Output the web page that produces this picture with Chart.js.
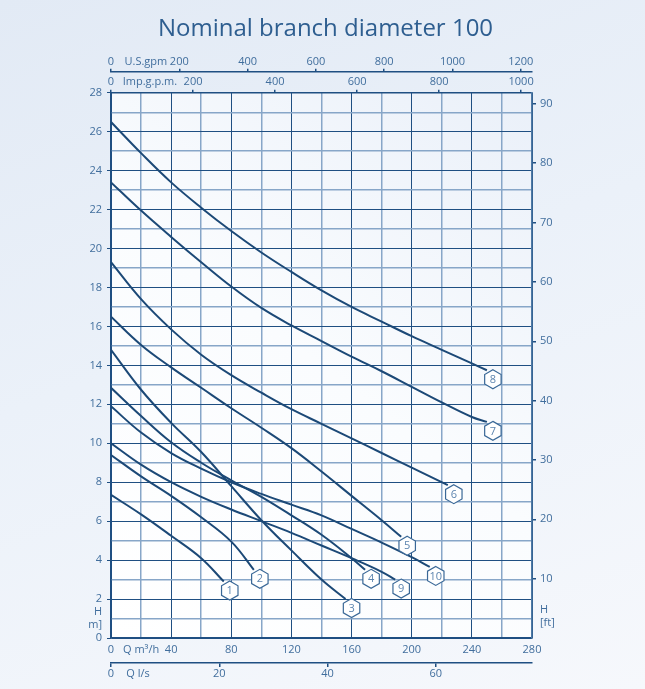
<!DOCTYPE html>
<html>
<head>
<meta charset="utf-8">
<script src="https://cdn.jsdelivr.net/npm/chart.js@4.4.1/dist/chart.umd.min.js"></script>
<style>
  html, body { margin: 0; padding: 0; }
  body {
    width: 645px; height: 689px; overflow: hidden;
    background: linear-gradient(160deg, #e2eaf5 0%, #ebf1f9 45%, #f6f8fc 100%);
  }
</style>
</head>
<body>
<canvas id="pumpChart" width="645" height="689"></canvas>
<script>
// pump curves, Q in m3/h, H in m
const q1 = [0, 20, 40, 60, 75];
const h1 = [7.35, 6.35, 5.25, 4.1, 2.9];
const q2 = [0, 20, 40, 60, 80, 95];
const h2 = [9.4, 8.3, 7.3, 6.2, 4.95, 3.5];
const q3 = [0, 20, 40, 60, 80, 100, 120, 140, 156];
const h3 = [14.8, 12.75, 11.05, 9.55, 7.8, 6.05, 4.5, 3.0, 2.0];
const q4 = [0, 20, 40, 60, 80, 100, 120, 140, 160, 169];
const h4 = [12.85, 11.4, 10.05, 9.0, 8.1, 7.25, 6.3, 5.3, 4.1, 3.5];
const q5 = [0, 20, 40, 60, 80, 100, 120, 140, 160, 180, 193];
const h5 = [16.5, 15.05, 13.9, 12.85, 11.8, 10.8, 9.75, 8.55, 7.3, 6.05, 5.2];
const q6 = [0, 20, 40, 60, 80, 100, 120, 140, 160, 180, 200, 224];
const h6 = [19.3, 17.4, 15.85, 14.55, 13.5, 12.6, 11.75, 11.0, 10.25, 9.5, 8.75, 7.85];
const q7 = [0, 20, 40, 60, 80, 100, 120, 140, 160, 180, 200, 220, 240, 250];
const h7 = [23.4, 21.95, 20.6, 19.3, 18.05, 16.95, 16.05, 15.25, 14.45, 13.7, 12.9, 12.1, 11.35, 11.1];
const q8 = [0, 20, 40, 60, 80, 100, 120, 140, 160, 180, 200, 220, 240, 250];
const h8 = [26.5, 24.9, 23.4, 22.1, 20.9, 19.8, 18.8, 17.85, 17.0, 16.25, 15.5, 14.8, 14.1, 13.75];
const q9 = [0, 20, 40, 60, 80, 100, 120, 140, 160, 180, 189];
const h9 = [10.0, 8.9, 8.0, 7.25, 6.6, 6.0, 5.4, 4.75, 4.1, 3.4, 3.0];
const q10 = [0, 20, 40, 60, 80, 100, 120, 140, 160, 180, 200, 212];
const h10 = [11.9, 10.55, 9.5, 8.7, 8.0, 7.4, 6.85, 6.3, 5.6, 4.9, 4.15, 3.65];

const curveNames = ['1', '2', '3', '4', '5', '6', '7', '8', '9', '10'];
const curveQ = [q1, q2, q3, q4, q5, q6, q7, q8, q9, q10];
const curveH = [h1, h2, h3, h4, h5, h6, h7, h8, h9, h10];

// axes
const qMax = 280, hMax = 28;
const lsTicks = [0, 5, 20, 40, 60];          // 5 carries the "Q l/s" caption
const impTicks = [0, 95, 200, 400, 600, 800, 1000];
const usTicks = [0, 102, 200, 400, 600, 800, 1000, 1200];
const ftTicks = [3.6, 10, 20, 30, 40, 50, 60, 70, 80, 90];

const DARK = '#1f4f82';
const LIGHT = '#87a6c8';
const LINE = '#1c4977';
const TEXT = '#416e9d';
const FONT = { family: 'Open Sans', size: 11 };

const datasets = curveNames.map((name, i) => ({
  label: name,
  data: curveQ[i].map((q, k) => ({ x: q, y: curveH[i][k] })),
  borderColor: LINE,
  borderWidth: 2,
  pointRadius: 0,
  tension: 0.4,
  xAxisID: 'x',
  yAxisID: 'y'
}));

const plotBg = {
  id: 'plotBg',
  beforeDraw(chart) {
    const { ctx, chartArea: a } = chart;
    const g = ctx.createLinearGradient(a.right, a.top, a.left, a.bottom);
    g.addColorStop(0, '#eaf0f9');
    g.addColorStop(0.5, '#fafcfe');
    g.addColorStop(1, '#ffffff');
    ctx.save();
    ctx.fillStyle = g;
    ctx.fillRect(a.left, a.top, a.right - a.left, a.bottom - a.top);
    ctx.restore();
  }
};

const curveTags = {
  id: 'curveTags',
  afterDatasetsDraw(chart) {
    const ctx = chart.ctx;
    chart.data.datasets.forEach((ds, i) => {
      const pts = chart.getDatasetMeta(i).data;
      const end = pts[pts.length - 1];
      const cx = end.x + 6, cy = end.y + 9, r = 9.5;
      ctx.save();
      ctx.beginPath();
      for (let k = 0; k < 6; k++) {
        const a = Math.PI / 3 * k - Math.PI / 2;
        const px = cx + r * Math.cos(a), py = cy + r * Math.sin(a);
        if (k === 0) ctx.moveTo(px, py); else ctx.lineTo(px, py);
      }
      ctx.closePath();
      ctx.fillStyle = '#ffffff';
      ctx.fill();
      ctx.strokeStyle = '#3a6897';
      ctx.lineWidth = 1.2;
      ctx.stroke();
      ctx.fillStyle = '#5d85af';
      ctx.font = '11px "Open Sans"';
      ctx.textAlign = 'center';
      ctx.textBaseline = 'middle';
      ctx.fillText(ds.label, cx, cy + 0.5);
      ctx.restore();
    });
  }
};

function fixedTicks(list) {
  return scale => { scale.ticks = list.map(v => ({ value: v })); };
}

new Chart(document.getElementById('pumpChart'), {
  type: 'line',
  data: { datasets },
  plugins: [plotBg, curveTags],
  options: {
    responsive: false,
    animation: false,
    devicePixelRatio: 1,
    layout: { padding: { left: 89, right: 83, top: 0, bottom: 4 } },
    plugins: {
      legend: { display: false },
      tooltip: { enabled: false },
      title: {
        display: true,
        text: 'Nominal branch diameter 100',
        color: '#2e5e90',
        font: { family: 'Open Sans', size: 24, weight: 'normal' },
        padding: { top: 15, bottom: 7 }
      }
    },
    scales: {
      x: {
        type: 'linear', axis: 'x', position: 'bottom', weight: 0,
        min: 0, max: qMax,
        ticks: {
          stepSize: 20, autoSkip: false, maxRotation: 0, padding: 5,
          color: TEXT, font: FONT,
          callback: v => v === 20 ? 'Q m³/h' : (v % 40 === 0 ? v : '')
        },
        grid: {
          drawTicks: false,
          color: c => (c.tick && c.tick.value % 40 === 0) ? DARK : LIGHT,
          lineWidth: c => (c.tick && c.tick.value % 40 === 0) ? 1 : 1.5
        },
        border: { color: DARK, width: 1.5 },
        afterFit: s => { s.height = 25; }
      },
      ls: {
        type: 'linear', axis: 'x', position: 'bottom', weight: 1,
        min: 0, max: qMax / 3.6,
        afterBuildTicks: fixedTicks(lsTicks),
        ticks: {
          autoSkip: false, maxRotation: 0, padding: 0, color: TEXT, font: FONT,
          callback: v => v === 5 ? 'Q l/s' : v
        },
        grid: {
          drawOnChartArea: false, tickLength: 4, lineWidth: 1.5,
          tickColor: c => (c.tick && c.tick.value === 5) ? 'rgba(0,0,0,0)' : DARK
        },
        border: { color: DARK, width: 1.5 },
        afterFit: s => { s.height = 22; }
      },
      imp: {
        type: 'linear', axis: 'x', position: 'top', weight: 0,
        min: 0, max: qMax * 3.6662,
        afterBuildTicks: fixedTicks(impTicks),
        ticks: {
          autoSkip: false, maxRotation: 0, padding: 1, color: TEXT, font: FONT,
          callback: v => v === 95 ? 'Imp.g.p.m.' : v
        },
        grid: {
          drawOnChartArea: false, tickLength: 3, lineWidth: 1.5,
          tickColor: c => (c.tick && c.tick.value === 95) ? 'rgba(0,0,0,0)' : DARK
        },
        border: { color: DARK, width: 1.5 },
        afterFit: s => { s.height = 21; }
      },
      usg: {
        type: 'linear', axis: 'x', position: 'top', weight: 1,
        min: 0, max: qMax * 4.4029,
        afterBuildTicks: fixedTicks(usTicks),
        ticks: {
          autoSkip: false, maxRotation: 0, padding: 0, color: TEXT, font: FONT,
          callback: v => v === 102 ? 'U.S.gpm' : v
        },
        grid: {
          drawOnChartArea: false, tickLength: 3, lineWidth: 1.5,
          tickColor: c => (c.tick && c.tick.value === 102) ? 'rgba(0,0,0,0)' : DARK
        },
        border: { color: DARK, width: 1.5 },
        afterFit: s => { s.height = 21; }
      },
      y: {
        type: 'linear', axis: 'y', position: 'left',
        min: 0, max: hMax,
        ticks: {
          stepSize: 1, autoSkip: false, padding: 5, color: TEXT, font: FONT,
          callback: v => v === 1 ? ['H', '[m]'] : (v % 2 === 0 ? v : '')
        },
        grid: {
          tickLength: 4,
          color: c => (c.tick && c.tick.value % 2 === 0) ? DARK : LIGHT,
          lineWidth: c => (c.tick && c.tick.value % 2 === 0) ? 1 : 1.5,
          tickColor: c => (c.tick && c.tick.value % 2 === 0) ? DARK : 'rgba(0,0,0,0)'
        },
        border: { color: DARK, width: 1.5 },
        afterFit: s => { s.width = 22; }
      },
      ft: {
        type: 'linear', axis: 'y', position: 'right',
        min: 0, max: hMax / 0.3048,
        afterBuildTicks: fixedTicks(ftTicks),
        ticks: {
          autoSkip: false, padding: 4, color: TEXT, font: FONT,
          callback: v => v === 3.6 ? ['H', '[ft]'] : v
        },
        grid: {
          drawOnChartArea: false, tickLength: 4, lineWidth: 1.5,
          tickColor: c => (c.tick && c.tick.value === 3.6) ? 'rgba(0,0,0,0)' : DARK
        },
        border: { color: '#4f7aa6', width: 1.5 },
        afterFit: s => { s.width = 30; }
      }
    }
  }
});
</script>
</body>
</html>
